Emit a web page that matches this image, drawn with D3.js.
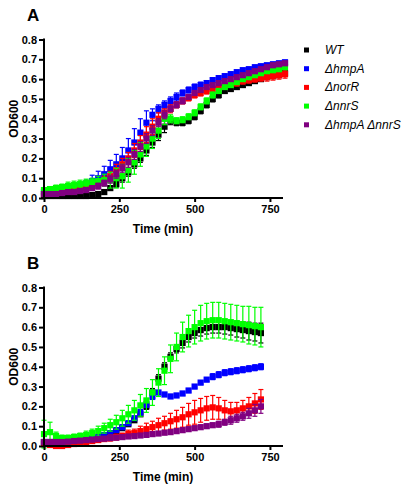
<!DOCTYPE html>
<html><head><meta charset="utf-8">
<script src="https://cdn.jsdelivr.net/npm/d3@7"></script>
<style>body{margin:0;background:#fff}svg{display:block}text{font-family:"Liberation Sans",Arial,sans-serif}</style>
</head><body><svg id="c" width="408" height="487"></svg>
<script>
const seriesNames = ["WT", "ΔhmpA", "ΔnorR", "ΔnnrS", "ΔhmpA ΔnnrS"];
const seriesColors = ["#000000", "#0000ff", "#ff0000", "#00ff00", "#800080"];
const xTicks = [0, 250, 500, 750];
const yTicks = [0, 0.1, 0.2, 0.3, 0.4, 0.5, 0.6, 0.7, 0.8];

// Panel A: time points 0..800 every 20 min
const timeA = d3.range(0, 801, 20);
const wtA = [0.01,0.01,0.01,0.01,0.01,0.01,0.01,0.01,0.015,0.02,0.03,0.05,0.07,0.1,0.13,0.17,0.2,0.24,0.28,0.32,0.36,0.39,0.38,0.38,0.39,0.41,0.44,0.47,0.5,0.52,0.54,0.55,0.56,0.57,0.58,0.59,0.6,0.61,0.615,0.62,0.63];
const wtAsd = [0.005,0.005,0.005,0.005,0.005,0.005,0.005,0.005,0.005,0.01,0.01,0.01,0.015,0.02,0.02,0.02,0.02,0.025,0.025,0.03,0.03,0.02,0.015,0.015,0.015,0.015,0.015,0.015,0.015,0.015,0.01,0.01,0.01,0.01,0.01,0.01,0.01,0.01,0.01,0.01,0.01];
const hmpA_A = [0.03,0.03,0.035,0.04,0.045,0.05,0.06,0.07,0.085,0.1,0.12,0.145,0.17,0.2,0.24,0.28,0.33,0.38,0.42,0.45,0.47,0.49,0.51,0.53,0.545,0.56,0.57,0.58,0.595,0.605,0.615,0.625,0.635,0.645,0.65,0.66,0.665,0.67,0.675,0.68,0.685];
const hmpA_Asd = [0.01,0.01,0.01,0.01,0.01,0.01,0.015,0.02,0.03,0.035,0.04,0.045,0.05,0.055,0.06,0.07,0.07,0.06,0.03,0.02,0.02,0.02,0.02,0.015,0.015,0.015,0.015,0.01,0.01,0.01,0.01,0.01,0.01,0.01,0.01,0.01,0.01,0.01,0.01,0.01,0.01];
const norR_A = [0.02,0.02,0.025,0.03,0.035,0.04,0.045,0.05,0.06,0.075,0.09,0.11,0.14,0.17,0.2,0.24,0.28,0.32,0.36,0.4,0.43,0.45,0.47,0.49,0.505,0.52,0.53,0.54,0.55,0.56,0.565,0.575,0.58,0.59,0.595,0.6,0.605,0.61,0.615,0.62,0.625];
const norR_Asd = [0.01,0.01,0.01,0.01,0.01,0.01,0.01,0.01,0.015,0.02,0.02,0.025,0.03,0.03,0.03,0.035,0.035,0.04,0.04,0.03,0.02,0.02,0.015,0.015,0.015,0.015,0.015,0.015,0.015,0.015,0.015,0.015,0.015,0.015,0.015,0.015,0.015,0.02,0.02,0.02,0.02];
const nnrS_A = [0.04,0.045,0.05,0.055,0.06,0.065,0.07,0.075,0.08,0.085,0.09,0.09,0.1,0.11,0.14,0.18,0.22,0.26,0.3,0.34,0.4,0.4,0.39,0.395,0.41,0.43,0.46,0.49,0.52,0.54,0.56,0.57,0.585,0.6,0.61,0.62,0.63,0.64,0.645,0.65,0.66];
const nnrS_Asd = [0.01,0.01,0.015,0.015,0.02,0.02,0.02,0.02,0.02,0.025,0.03,0.04,0.05,0.06,0.06,0.06,0.06,0.05,0.05,0.04,0.03,0.02,0.015,0.015,0.015,0.015,0.015,0.015,0.015,0.01,0.01,0.01,0.01,0.01,0.01,0.01,0.01,0.01,0.01,0.01,0.01];
const dbl_A = [0.02,0.02,0.02,0.025,0.03,0.03,0.035,0.04,0.05,0.06,0.075,0.095,0.12,0.15,0.18,0.22,0.26,0.3,0.34,0.38,0.42,0.45,0.47,0.49,0.51,0.53,0.545,0.56,0.57,0.58,0.59,0.6,0.61,0.62,0.63,0.64,0.65,0.66,0.67,0.675,0.68];
const dbl_Asd = [0.01,0.01,0.01,0.01,0.01,0.01,0.01,0.01,0.01,0.015,0.015,0.02,0.02,0.02,0.025,0.025,0.025,0.025,0.025,0.02,0.02,0.015,0.015,0.015,0.01,0.01,0.01,0.01,0.01,0.01,0.01,0.01,0.01,0.01,0.01,0.01,0.01,0.01,0.01,0.01,0.01];

// Panel B: time points 0..720 every 20 min
const timeB = d3.range(0, 721, 20);
const wtB = [0.02,0.02,0.02,0.02,0.02,0.02,0.025,0.03,0.035,0.04,0.05,0.06,0.075,0.09,0.11,0.13,0.16,0.2,0.27,0.34,0.4,0.45,0.49,0.52,0.55,0.57,0.585,0.595,0.6,0.6,0.6,0.595,0.59,0.585,0.58,0.575,0.57];
const wtBsd = [0.005,0.005,0.005,0.005,0.005,0.005,0.005,0.005,0.005,0.005,0.01,0.01,0.01,0.01,0.01,0.01,0.01,0.015,0.02,0.02,0.02,0.02,0.02,0.025,0.025,0.025,0.03,0.03,0.03,0.03,0.035,0.035,0.04,0.04,0.045,0.045,0.05];
const hmpA_B = [0.02,0.02,0.02,0.025,0.025,0.03,0.03,0.035,0.04,0.045,0.055,0.065,0.08,0.095,0.115,0.14,0.17,0.21,0.25,0.27,0.26,0.25,0.255,0.265,0.28,0.3,0.32,0.335,0.35,0.36,0.37,0.375,0.38,0.385,0.39,0.395,0.4];
const hmpA_Bsd = [0.005,0.005,0.005,0.005,0.005,0.005,0.005,0.005,0.005,0.005,0.005,0.01,0.01,0.01,0.01,0.01,0.015,0.015,0.015,0.01,0.01,0.01,0.01,0.01,0.01,0.01,0.01,0.01,0.015,0.015,0.015,0.015,0.015,0.015,0.015,0.015,0.015];
const norR_B = [0.01,0.005,0,0,0.005,0.01,0.015,0.02,0.025,0.03,0.035,0.04,0.045,0.05,0.06,0.065,0.075,0.085,0.095,0.105,0.115,0.125,0.135,0.145,0.16,0.17,0.18,0.19,0.195,0.19,0.18,0.175,0.18,0.19,0.2,0.215,0.235];
const norR_Bsd = [0.005,0.005,0.005,0.005,0.005,0.005,0.01,0.01,0.01,0.01,0.01,0.015,0.015,0.015,0.02,0.02,0.025,0.03,0.03,0.035,0.035,0.04,0.045,0.05,0.055,0.06,0.06,0.06,0.06,0.055,0.05,0.045,0.04,0.04,0.045,0.05,0.05];
const nnrS_B = [0.06,0.07,0.05,0.04,0.04,0.045,0.05,0.055,0.065,0.075,0.09,0.105,0.12,0.14,0.16,0.18,0.205,0.23,0.27,0.32,0.38,0.44,0.5,0.55,0.58,0.6,0.62,0.63,0.635,0.635,0.63,0.625,0.62,0.615,0.61,0.605,0.6];
const nnrS_Bsd = [0.07,0.05,0.02,0.015,0.015,0.015,0.015,0.02,0.02,0.025,0.025,0.03,0.035,0.04,0.045,0.05,0.055,0.06,0.065,0.07,0.07,0.07,0.07,0.075,0.08,0.085,0.09,0.09,0.09,0.09,0.09,0.09,0.09,0.09,0.095,0.095,0.1];
const dbl_B = [0.02,0.02,0.02,0.02,0.022,0.025,0.027,0.03,0.032,0.035,0.037,0.04,0.042,0.045,0.048,0.05,0.053,0.056,0.06,0.063,0.067,0.07,0.075,0.08,0.085,0.09,0.095,0.1,0.105,0.11,0.12,0.13,0.14,0.15,0.165,0.18,0.2];
const dbl_Bsd = [0.005,0.005,0.005,0.005,0.005,0.005,0.005,0.005,0.005,0.005,0.005,0.005,0.005,0.005,0.005,0.005,0.005,0.005,0.005,0.005,0.005,0.005,0.01,0.01,0.01,0.01,0.01,0.01,0.01,0.015,0.015,0.02,0.02,0.02,0.025,0.03,0.035];

const panelA = {label: "A", time: timeA, top: 39.5, bottom: 198, values: [wtA, hmpA_A, norR_A, nnrS_A, dbl_A], sds: [wtAsd, hmpA_Asd, norR_Asd, nnrS_Asd, dbl_Asd]};
const panelB = {label: "B", time: timeB, top: 287.5, bottom: 446, values: [wtB, hmpA_B, norR_B, nnrS_B, dbl_B], sds: [wtBsd, hmpA_Bsd, norR_Bsd, nnrS_Bsd, dbl_Bsd]};

const svg = d3.select("#c");
const left = 44, axisEnd = 283;
const ms = 6.2; // marker size

function drawPanel(p) {
  const x = d3.scaleLinear().domain([0, 800]).range([left, 285]);
  const y = d3.scaleLinear().domain([0, 0.8]).range([p.bottom, p.top]);
  const g = svg.append("g");
  p.values.forEach((vals, si) => {
    const col = seriesColors[si];
    const sg = g.append("g");
    const pts = p.time.map((t, i) => ({t, v: vals[i], sd: p.sds[si][i]}));
    const eb = sg.selectAll("g.eb").data(pts).join("g");
    eb.append("line").attr("x1", d => x(d.t)).attr("x2", d => x(d.t))
      .attr("y1", d => y(d.v + d.sd)).attr("y2", d => y(Math.max(d.v - d.sd, -0.01)))
      .attr("stroke", col).attr("stroke-width", 1.2);
    eb.append("line").attr("x1", d => x(d.t) - 2.5).attr("x2", d => x(d.t) + 2.5)
      .attr("y1", d => y(d.v + d.sd)).attr("y2", d => y(d.v + d.sd))
      .attr("stroke", col).attr("stroke-width", 1.2);
    eb.append("line").attr("x1", d => x(d.t) - 2.5).attr("x2", d => x(d.t) + 2.5)
      .attr("y1", d => y(d.v - d.sd)).attr("y2", d => y(d.v - d.sd))
      .attr("stroke", col).attr("stroke-width", 1.2);
    sg.selectAll("rect").data(pts).join("rect")
      .attr("x", d => x(d.t) - ms / 2).attr("y", d => y(d.v) - ms / 2)
      .attr("width", ms).attr("height", ms).attr("fill", col);
  });
  const ya = d3.axisLeft(y).tickValues(yTicks).tickFormat(d3.format(".1f")).tickSize(5).tickPadding(2);
  const yg = g.append("g").attr("transform", `translate(${left},0)`).call(ya);
  const xa = d3.axisBottom(x).tickValues(xTicks).tickFormat(d3.format("d")).tickSize(4).tickPadding(3);
  const xg = g.append("g").attr("transform", `translate(0,${p.bottom})`).call(xa);
  [yg, xg].forEach(a => {
    a.selectAll("path").remove();
    a.selectAll("line").attr("stroke", "#000").attr("stroke-width", 2);
    a.selectAll("text").attr("font-size", 11).attr("font-weight", "bold").attr("fill", "#000")
      .style("font-family", '"Liberation Sans", Arial, sans-serif');
  });
  g.append("line").attr("x1", left).attr("x2", left).attr("y1", p.top - 1).attr("y2", p.bottom + 1)
    .attr("stroke", "#000").attr("stroke-width", 2);
  g.append("line").attr("x1", left - 1).attr("x2", axisEnd).attr("y1", p.bottom).attr("y2", p.bottom)
    .attr("stroke", "#000").attr("stroke-width", 2);
  g.append("text").attr("x", 163).attr("y", p.bottom + 35).attr("text-anchor", "middle")
    .attr("font-size", 12).attr("font-weight", "bold").text("Time (min)");
  g.append("text").attr("transform", `translate(18,${(p.top + p.bottom) / 2}) rotate(-90)`)
    .attr("text-anchor", "middle").attr("font-size", 12).attr("font-weight", "bold").text("OD600");
  g.append("text").attr("x", 27).attr("y", p.top - 19).attr("font-size", 17).attr("font-weight", "bold").text(p.label);
}
drawPanel(panelA);
drawPanel(panelB);

const lg = svg.append("g");
seriesNames.forEach((n, i) => {
  const yy = 50 + i * 18.7;
  lg.append("rect").attr("x", 304).attr("y", yy - 2.5).attr("width", 5).attr("height", 5).attr("fill", seriesColors[i]);
  lg.append("text").attr("x", 325).attr("y", yy + 4).attr("font-size", 12).attr("font-style", "italic").text(n);
});
</script></body></html>
